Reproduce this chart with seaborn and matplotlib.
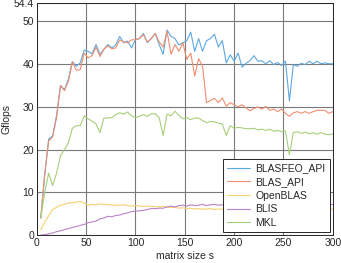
import numpy as np
import pandas as pd
import matplotlib
matplotlib.use('Agg')
import matplotlib.pyplot as plt
import seaborn as sns

# matrix sizes
sizes = list(range(4, 301, 4))

blasfeo_api = [4, 14, 22.5, 23.2, 28, 35, 34, 36.5, 40.6, 39.5,
               40.3, 43.3, 43, 42.4, 44.6, 42.3, 43.5, 44.6, 43.8, 44.5,
               46.5, 45, 45.4, 43.8, 45.8, 46, 47.2, 45, 46, 47.2,
               44.6, 42.3, 48, 46.5, 46, 44.5, 45, 45.5, 47.5, 43,
               46, 43, 45.5, 46, 47, 44, 45.5, 40.3, 42.2, 40.7,
               42.6, 39.3, 40.2, 40.8, 42, 40.7, 40.8, 40.1, 40.8, 39.9,
               40.4, 39.7, 40.7, 31.4, 39.9, 39.5, 40.2, 39.9, 40.7, 40.1,
               40.7, 40.1, 40.3, 40.1, 40.1]

blas_api = [4, 14.5, 22, 23, 27.5, 35, 33.8, 36, 40.5, 38.6,
            38.7, 42.6, 41.5, 42, 44, 41.8, 43.5, 44.3, 43.6, 43.8,
            45.7, 45.2, 45, 45.7, 45.7, 46, 46.9, 45.2, 46, 47.2,
            45.2, 44, 47.7, 42.3, 44.6, 43, 45, 41.1, 42.6, 37.2,
            41.3, 39.5, 31, 31.5, 32, 31, 32.1, 30.2, 31, 30.5,
            30, 30.5, 29.8, 29.1, 29.6, 30, 29.5, 30.1, 29.2, 29.5,
            28.9, 29.5, 28.5, 27.8, 28.6, 28.9, 28.5, 28.9, 28.5, 28.9,
            29.2, 29.2, 29.2, 28.5, 28.9]

openblas = [1.2, 3, 4.5, 6, 6.5, 7, 7.2, 7.5, 7.6, 7.7,
            7.9, 7.5, 7, 7.2, 7.1, 7.3, 7.2, 7.2, 7, 7,
            7, 7.1, 6.9, 6.8, 6.9, 6.8, 6.7, 6.8, 6.7, 6.7,
            6.6, 6.7, 6.5, 6.5, 6.5, 6.3, 6.4, 6.2, 6.3, 6.1,
            6.2, 6.1, 6.1, 6.2, 6, 6.1, 6.1, 5.8, 6, 6,
            6, 6.1, 6, 6, 6.1, 6, 6.1, 6, 6, 6.1,
            6, 6, 6.1, 6, 6, 6.1, 6, 6, 6.1, 6,
            6, 6.1, 6, 6, 6.1]

blis = [0, 0.1, 0.3, 0.5, 0.8, 1, 1.3, 1.5, 1.8, 2,
        2.3, 2.5, 2.9, 3.1, 3.3, 3.8, 4, 4.4, 4.3, 4.6,
        4.7, 5, 5.2, 5.5, 5.6, 5.7, 5.8, 6, 6.2, 6.2,
        6.3, 6.3, 6.6, 6.8, 6.6, 6.9, 7, 6.8, 7.1, 6.9,
        7, 7.2, 6.9, 7.1, 7.2, 7, 7.1, 7.1, 7.1, 7.2,
        7.1, 7.2, 7.1, 7.2, 7.1, 7.2, 7.1, 7.2, 7.2, 7.1,
        7.2, 7.1, 7.2, 7.2, 7.1, 7.2, 7.2, 7.1, 7.2, 7.2,
        7.1, 7.2, 7.2, 7.1, 7.2]

mkl = [4, 10, 14.5, 11.6, 14.5, 18.6, 20, 21.6, 25, 25.6,
       25.6, 27.9, 27.2, 26.7, 26, 24, 27.4, 27.4, 27.5, 28.2,
       28.6, 28.3, 28.8, 27.9, 27.5, 27.8, 28.2, 27.8, 28.4, 28.4,
       27.5, 23.3, 28.3, 27.9, 29, 28, 27.2, 27.5, 27, 27.4,
       27.4, 26.8, 26.3, 26.6, 26.5, 26.2, 26, 23.3, 25.6, 25,
       25.2, 25.1, 24.9, 24.9, 25, 24.6, 24.8, 24.5, 24.8, 24.3,
       24.5, 24.2, 24.4, 18.8, 24, 24.2, 23.8, 24.1, 23.7, 24,
       23.6, 24, 23.6, 23.5, 23.7]

series = {'BLASFEO_API': blasfeo_api, 'BLAS_API': blas_api,
          'OpenBLAS': openblas, 'BLIS': blis, 'MKL': mkl}
colors = ['#5ea8e0', '#f08e6e', '#f7d06e', '#bb82c8', '#a6d07a']

df = pd.concat([pd.DataFrame({'size': sizes, 'gflops': v, 'lib': k})
                for k, v in series.items()])

sns.set_theme(style='white')
plt.rcParams['font.family'] = ['Liberation Sans', 'DejaVu Sans']

fig = plt.figure(figsize=(3.41, 2.63), dpi=100)
ax = fig.add_axes([0.108, 0.106, 0.868, 0.884])

sns.lineplot(data=df, x='size', y='gflops', hue='lib', palette=colors,
             linewidth=0.8, ax=ax)

ax.set_xlim(0, 300)
ax.set_ylim(0, 54.4)
ax.set_xticks([0, 50, 100, 150, 200, 250, 300])
ax.set_yticks([0, 10, 20, 30, 40, 50, 54.4])
ax.set_yticklabels(['0', '10', '20', '30', '40', '50', '54.4'])
ax.grid(True, color='#7a7a7a', linewidth=0.8)
ax.set_axisbelow(True)
ax.tick_params(labelsize=7.5, direction='in', length=2, pad=2, colors='#262626')
for s in ax.spines.values():
    s.set_color('#262626')
    s.set_linewidth(0.7)

ax.set_xlabel('matrix size s', fontsize=7.5, labelpad=2)
ax.set_ylabel('Gflops', fontsize=7.5, labelpad=2)

leg = ax.legend(loc='lower right', fontsize=7.5, frameon=True, fancybox=False,
                borderaxespad=0.3, handlelength=2.2, labelspacing=0.35,
                borderpad=0.4, handletextpad=0.5)
leg.get_frame().set_edgecolor('#262626')
leg.get_frame().set_linewidth(0.7)
leg.get_frame().set_alpha(1)

fig.savefig('out.png', dpi=100)
